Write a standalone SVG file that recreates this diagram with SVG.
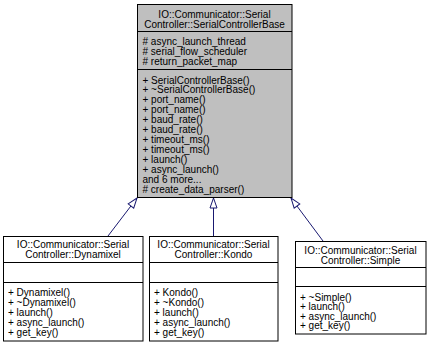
<svg xmlns="http://www.w3.org/2000/svg" width="428" height="344" viewBox="0 0 428 344">
  <style>
    .box { stroke: #000; stroke-width: 1; }
    .base { fill: #bfbfbf; }
    .leaf { fill: #fff; }
    .sep { stroke: #000; stroke-width: 1; }
    text { font-family: "Liberation Sans", Arial, Helvetica, sans-serif; font-size: 10px; fill: #000; }
    .c { text-anchor: middle; }
    .edge { stroke: #191970; stroke-width: 1; fill: none; marker-end: url(#inherit); }
  </style>
  <defs>
    <marker id="inherit" markerUnits="userSpaceOnUse" markerWidth="12" markerHeight="10" refX="10" refY="0" viewBox="-1 -5 12 10" orient="auto" overflow="visible">
      <path d="M0,-3.5 L10,0 L0,3.5 Z" fill="#fff" stroke="#191970" stroke-width="1"/>
    </marker>
  </defs>
  <rect width="428" height="344" fill="#fff"/>

  <!-- inheritance edges -->
  <g id="edges">
    <line class="edge" x1="108" y1="236" x2="137" y2="198"/>
    <line class="edge" x1="213.5" y1="236" x2="213.5" y2="198"/>
    <line class="edge" x1="323" y1="241" x2="291" y2="198"/>
  </g>

  <g id="node-base">
    <rect class="box base" x="137.5" y="4.5" width="154.5" height="193"/>
    <line class="sep" x1="137.5" y1="31.5" x2="292" y2="31.5"/>
    <line class="sep" x1="137.5" y1="69.5" x2="292" y2="69.5"/>
    <text class="c" x="214.5" y="17.5">IO::Communicator::Serial</text>
    <text class="c" x="214.5" y="27.5">Controller::SerialControllerBase</text>
    <text x="142.5" y="45.2"># async_launch_thread</text>
    <text x="142.5" y="55.2"># serial_flow_scheduler</text>
    <text x="142.5" y="65.2"># return_packet_map</text>
    <text x="142.5" y="83.5">+ SerialControllerBase()</text>
    <text x="142.5" y="93.4">+ ~SerialControllerBase()</text>
    <text x="142.5" y="103.4">+ port_name()</text>
    <text x="142.5" y="113.3">+ port_name()</text>
    <text x="142.5" y="123.3">+ baud_rate()</text>
    <text x="142.5" y="133.2">+ baud_rate()</text>
    <text x="142.5" y="143.2">+ timeout_ms()</text>
    <text x="142.5" y="153.1">+ timeout_ms()</text>
    <text x="142.5" y="163.1">+ launch()</text>
    <text x="142.5" y="173">+ async_launch()</text>
    <text x="142.5" y="183">and 6 more...</text>
    <text x="142.5" y="192.9"># create_data_parser()</text>
  </g>

  <g id="node-dynamixel">
    <rect class="box leaf" x="3.5" y="236.5" width="139.5" height="104.5"/>
    <line class="sep" x1="3.5" y1="262.5" x2="143" y2="262.5"/>
    <line class="sep" x1="3.5" y1="282.5" x2="143" y2="282.5"/>
    <text class="c" x="73" y="248">IO::Communicator::Serial</text>
    <text class="c" x="73" y="258">Controller::Dynamixel</text>
    <text x="8" y="296">+ Dynamixel()</text>
    <text x="8" y="306">+ ~Dynamixel()</text>
    <text x="8" y="316">+ launch()</text>
    <text x="8" y="326">+ async_launch()</text>
    <text x="8" y="336">+ get_key()</text>
  </g>

  <g id="node-kondo">
    <rect class="box leaf" x="149.5" y="236.5" width="128.5" height="104.5"/>
    <line class="sep" x1="149.5" y1="262.5" x2="278" y2="262.5"/>
    <line class="sep" x1="149.5" y1="282.5" x2="278" y2="282.5"/>
    <text class="c" x="213.5" y="248">IO::Communicator::Serial</text>
    <text class="c" x="213.5" y="258">Controller::Kondo</text>
    <text x="154" y="296">+ Kondo()</text>
    <text x="154" y="306">+ ~Kondo()</text>
    <text x="154" y="316">+ launch()</text>
    <text x="154" y="326">+ async_launch()</text>
    <text x="154" y="336">+ get_key()</text>
  </g>

  <g id="node-simple">
    <rect class="box leaf" x="295.5" y="241.5" width="130.5" height="92.5"/>
    <line class="sep" x1="295.5" y1="267.5" x2="426" y2="267.5"/>
    <line class="sep" x1="295.5" y1="286.5" x2="426" y2="286.5"/>
    <text class="c" x="360.5" y="253.5">IO::Communicator::Serial</text>
    <text class="c" x="360.5" y="263.5">Controller::Simple</text>
    <text x="300" y="300.5">+ ~Simple()</text>
    <text x="300" y="310">+ launch()</text>
    <text x="300" y="319.5">+ async_launch()</text>
    <text x="300" y="329">+ get_key()</text>
  </g>
</svg>
